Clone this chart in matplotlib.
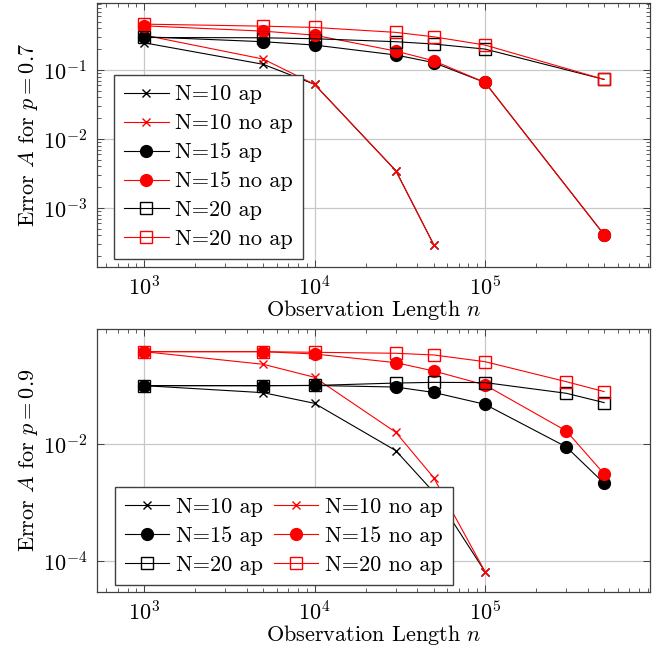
import numpy as np
import matplotlib
matplotlib.use('Agg')
from matplotlib import pyplot as plt
from matplotlib.ticker import LogLocator, NullLocator

plt.rcParams['font.family'] = 'cmr10'
plt.rcParams['mathtext.fontset'] = 'cm'
plt.rcParams['axes.formatter.use_mathtext'] = True
plt.rcParams['font.size'] = 16

# observation lengths
n_07 = [1e3, 5e3, 1e4, 3e4, 5e4, 1e5, 5e5]
n_09 = [1e3, 5e3, 1e4, 3e4, 5e4, 1e5, 3e5, 5e5]

# error A, p = 0.7
err10_ap_07 = [0.248, 0.121, 0.062, 0.00347, 0.000295]
err10_noap_07 = [0.32, 0.144, 0.062, 0.00347, 0.000295]
err15_ap_07 = [0.303, 0.257, 0.23, 0.165, 0.128, 0.066, 0.00041]
err15_noap_07 = [0.437, 0.366, 0.32, 0.188, 0.136, 0.066, 0.00041]
err20_ap_07 = [0.296, 0.293, 0.284, 0.257, 0.238, 0.201, 0.073]
err20_noap_07 = [0.462, 0.432, 0.414, 0.351, 0.303, 0.23, 0.073]

# error A, p = 0.9
err10_ap_09 = [0.0993, 0.0753, 0.0495, 0.00769, 0.0015, 6.6e-5]
err10_noap_09 = [0.378, 0.23, 0.138, 0.0158, 0.00266, 6.6e-5]
err15_ap_09 = [0.0993, 0.0993, 0.1, 0.094, 0.076, 0.0476, 0.0089, 0.00213]
err15_noap_09 = [0.378, 0.378, 0.345, 0.245, 0.177, 0.102, 0.0167, 0.00307]
err20_ap_09 = [0.0993, 0.0993, 0.1, 0.11, 0.113, 0.112, 0.0735, 0.0509]
err20_noap_09 = [0.378, 0.378, 0.369, 0.355, 0.332, 0.255, 0.116, 0.0785]

labels = ['N=10 ap', 'N=10 no ap', 'N=15 ap', 'N=15 no ap', 'N=20 ap', 'N=20 no ap']
colors = ['black', 'red'] * 3
markers = ['x', 'x', 'o', 'o', 's', 's']
msizes = [6, 6, 8.5, 8.5, 8, 8]
mfaces = ['black', 'red', 'black', 'red', 'none', 'none']

W, H = 667, 647
fig = plt.figure(figsize=(W/100, H/100), dpi=100)
ax1 = fig.add_axes([97/W, 1-267/H, 553/W, 264/H])
ax2 = fig.add_axes([97/W, 1-592/H, 553/W, 263/H])

leg_kw = dict(loc='lower left', borderaxespad=0, fancybox=False,
              framealpha=1, edgecolor='#404040', handlelength=2.0,
              handletextpad=0.3, labelspacing=0.42, borderpad=0.45)


def draw(ax, n, series):
    for i, ys in enumerate(series):
        ax.plot(n[:len(ys)], ys, color=colors[i], marker=markers[i],
                markersize=msizes[i], markerfacecolor=mfaces[i],
                markeredgecolor=colors[i], markeredgewidth=1.0,
                linewidth=0.8, label=labels[i], zorder=3)
    ax.set_xscale('log')
    ax.set_yscale('log')
    ax.grid(True, which='major', color='#c8c8c8', linewidth=0.9, zorder=0)
    ax.set_axisbelow(True)
    ax.tick_params(which='both', direction='in', top=True, right=True,
                   color='#404040')
    ax.tick_params(which='major', length=5, width=0.7)
    ax.tick_params(which='minor', length=3, width=0.6)
    ax.tick_params(axis='x', pad=6)
    ax.tick_params(axis='y', pad=7)
    for s in ax.spines.values():
        s.set_color('#404040')
        s.set_linewidth(0.9)
    ax.set_xlim(10**2.724, 10**5.968)
    ax.set_xlabel('Observation Length $n$', labelpad=-1)


draw(ax1, n_07, [err10_ap_07, err10_noap_07, err15_ap_07,
                 err15_noap_07, err20_ap_07, err20_noap_07])
ax1.set_ylim(10**-3.855, 10**-0.029)
ax1.set_ylabel('Error $A$ for $p = 0.7$', labelpad=2)
ax1.legend(bbox_to_anchor=(0.031, 0.03), **leg_kw).set_zorder(5)

draw(ax2, n_09, [err10_ap_09, err10_noap_09, err15_ap_09,
                 err15_noap_09, err20_ap_09, err20_noap_09])
ax2.set_ylim(10**-4.53, 10**-0.035)
ax2.yaxis.set_major_locator(LogLocator(base=100))
ax2.yaxis.set_minor_locator(NullLocator())
ax2.set_ylabel('Error $A$ for $p = 0.9$', labelpad=2)
# two columns, filled row by row
h, l = ax2.get_legend_handles_labels()
order = [0, 2, 4, 1, 3, 5]
ax2.legend([h[i] for i in order], [l[i] for i in order], ncol=2,
           columnspacing=0.5, bbox_to_anchor=(0.032, 0.027),
           **leg_kw).set_zorder(5)

fig.savefig('out.png', dpi=100)
